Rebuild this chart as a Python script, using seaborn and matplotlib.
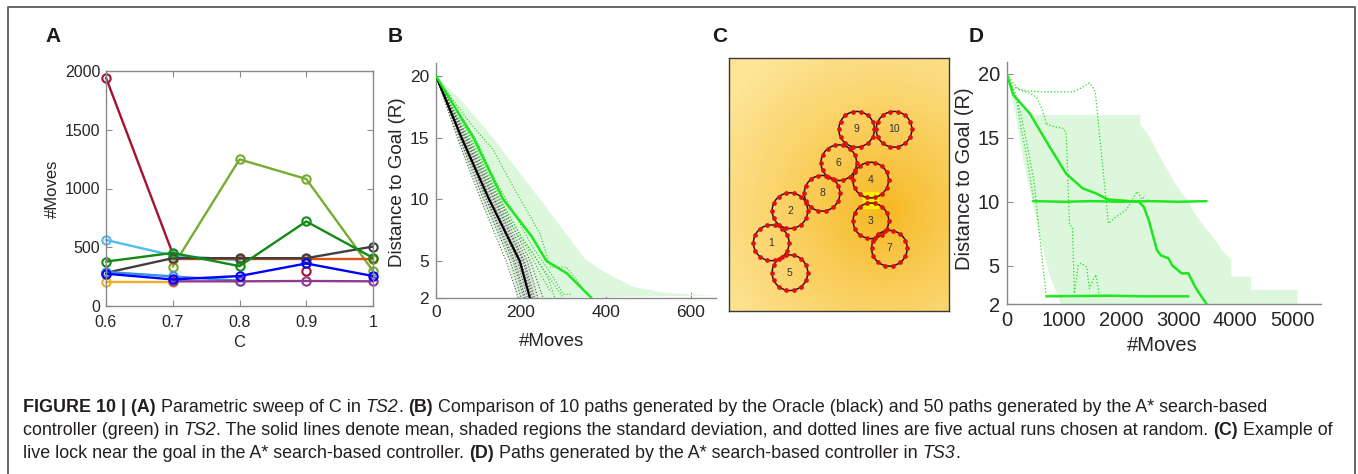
import numpy as np
import matplotlib
matplotlib.use("Agg")
import matplotlib.pyplot as plt
import seaborn as sns
import pandas as pd
from matplotlib.patches import Circle, Rectangle
from matplotlib.lines import Line2D
from matplotlib.transforms import IdentityTransform

# ---------------- DATA ----------------
# Panel A: parametric sweep of C
c_values = [0.6, 0.7, 0.8, 0.9, 1.0]
moves_crimson = [1943, 445, np.nan, 300, np.nan]
moves_lightgreen = [np.nan, 335, 1248, 1081, 298]
moves_cyan = [562, 430, 390, np.nan, np.nan]
moves_orange = [np.nan, 400, 400, 400, 400]
moves_gray = [282, 407, 407, 407, 506]
moves_darkgreen = [378, 452, 339, 720, 410]
moves_steelblue = [290, 252, 215, np.nan, np.nan]
moves_yellow = [205, 205, np.nan, np.nan, np.nan]
moves_purple = [np.nan, 210, 210, 213, 210]
moves_blue = [275, 226, 255, 362, 255]

# Panel B: oracle (black) and A* (green) paths
b_black_mean_x = [0, 60, 125, 197, 221]
b_black_mean_y = [20, 15, 10, 5, 2]
b_green_mean_x = [0, 88, 158, 225, 260, 308, 366]
b_green_mean_y = [20, 15, 10, 7, 5, 4, 2]
b_green_sd_right_x = [0, 60, 134, 200, 245, 300, 350, 386, 430, 464, 543, 621, 659]
b_green_sd_right_y = [20, 18, 15, 12, 10, 7.5, 5.2, 4.3, 3.5, 2.9, 2.4, 2.25, 2.2]
b_green_sd_left_x = [0, 50, 105, 170, 190]
b_green_sd_left_y = [20, 15, 10, 5, 2]
b_gray_sd_left_x = [0, 52, 110, 178, 200]
b_gray_sd_right_x = [0, 68, 140, 215, 240]
b_gray_sd_y = [20, 15, 10, 5, 2]
b_oracle_levels = [20, 15, 10, 5, 2]
b_oracle_runs_x = [
    [0, 50, 105, 165, 194],
    [0, 55, 112, 175, 200],
    [0, 58, 118, 182, 207],
    [0, 62, 125, 192, 215],
    [0, 65, 130, 200, 225],
    [0, 70, 138, 208, 232],
    [0, 72, 142, 215, 240],
    [0, 75, 148, 222, 252],
    [0, 60, 120, 186, 210],
    [0, 68, 135, 205, 228],
]
b_astar_runs = [
    ([0, 41, 80, 135, 182, 245, 262, 270, 307, 330, 355],
     [20, 18, 16.2, 14, 11, 7.2, 5.3, 4.5, 4.5, 3.5, 2.3]),
    ([0, 50, 100, 150, 200, 240, 265, 280],
     [20, 17, 13.5, 10, 7, 5, 3.5, 2]),
    ([0, 45, 95, 140, 190, 230, 270, 300, 320],
     [20, 17.5, 14.8, 11.5, 8.5, 6, 4, 2.3, 2.3]),
    ([0, 60, 110, 160, 200, 250, 280, 300],
     [20, 16.5, 13, 9.5, 7, 4.5, 3, 2]),
    ([0, 30, 90, 130, 175, 215, 245, 270],
     [20, 18, 14, 11, 8, 6, 4, 2.5]),
]

# Panel C: robot discs and goal (layout units)
disc_labels = ["1", "2", "3", "4", "5", "6", "7", "8", "9", "10"]
disc_x = [1.92, 2.77, 6.45, 6.44, 2.77, 4.99, 7.29, 4.23, 5.80, 7.50]
disc_y = [8.40, 6.94, 7.40, 5.55, 9.76, 4.76, 8.65, 6.15, 3.24, 3.24]
disc_radius = 0.81
goal_xy = (6.41, 6.45)
goal_size = (0.68, 0.75)

# Panel D: A* paths in TS3
d_mean_x = [0, 116, 405, 751, 1040, 1329, 1561, 1763, 2000, 2312, 2400, 2485,
            2630, 2700, 2832, 2900, 3063, 3179, 3295, 3410, 3497]
d_mean_y = [20, 18.36, 16.9, 14.3, 12.2, 11.05, 10.66, 10.19, 10.1, 10.0, 9.6,
            8.57, 6.2, 5.8, 5.57, 5.0, 4.4, 4.4, 3.36, 2.57, 2.0]
d_sd_x = [0, 150, 300, 450, 600, 750, 950,
          5087, 5087, 4277, 4277, 3930, 3930, 3800, 3650, 3470, 3300, 3179,
          2950, 2800, 2600, 2485, 2341, 2341, 462, 200]
d_sd_y = [20, 17, 13, 10, 7, 4.2, 2,
          2, 3.1, 3.1, 4.14, 4.14, 5.5, 6.0, 7.0, 8.0, 9.0, 10.0,
          11.4, 12.6, 14.2, 15.2, 16.0, 16.8, 16.8, 17.5]
d_runs = [
    ([0, 100, 300, 600, 1156, 1300, 1445, 1503, 1550, 1780, 1907, 2100, 2283, 2370, 2430],
     [20, 19, 18.7, 18.6, 18.6, 18.9, 19.3, 19.0, 18.6, 8.3, 8.8, 9.4, 10.8, 10.2, 10.5]),
    ([0, 173, 260, 347, 434, 474],
     [20, 17.96, 15.5, 13.66, 11.2, 10.1]),
    ([0, 200, 400, 520, 607, 650, 694],
     [20, 18.8, 18.5, 18.2, 17.4, 16.8, 16.1]),
    ([0, 150, 250, 400, 480, 560, 694],
     [20, 18.5, 16.8, 13.5, 11.5, 8.0, 2.6]),
    ([694, 809, 983, 1040, 1100, 1150, 1185, 1250, 1300, 1400, 1445, 1560, 1620],
     [16.1, 15.9, 15.75, 15.4, 8.2, 8.0, 2.83, 5.0, 5.2, 4.9, 3.2, 4.3, 2.8]),
]
d_lock10_x = [462, 1000, 1500, 2000, 2500, 3000, 3497]
d_lock10_y = [10.05, 10.0, 10.05, 10.0, 10.05, 10.0, 10.05]
d_lock2_x = [694, 1200, 1800, 2400, 3179]
d_lock2_y = [2.6, 2.62, 2.65, 2.6, 2.6]

# ---------------- STYLE ----------------
sns.set_theme(style="white")
plt.rcParams["font.family"] = ["Liberation Sans", "DejaVu Sans"]
TXT = "#262626"
SPINE = "#8a8a8a"

fig = plt.figure(figsize=(13.58, 4.74), dpi=100)
W, H = 1358, 474


def ax_px(left, top, right, bottom):
    return fig.add_axes([left / W, 1 - bottom / H, (right - left) / W, (bottom - top) / H])


def style_axes(ax, box, tsize, xpad=4, ypad=4):
    for s in ["left", "bottom", "top", "right"]:
        ax.spines[s].set_color(SPINE)
        ax.spines[s].set_linewidth(1.0)
        ax.spines[s].set_visible(box or s in ("left", "bottom"))
    ax.tick_params(direction="in", length=4, width=0.8, color=SPINE,
                   labelsize=tsize, labelcolor=TXT,
                   top=box, right=box, bottom=True, left=True)
    ax.tick_params(axis="x", pad=xpad)
    ax.tick_params(axis="y", pad=ypad)


# ---------------- PANEL A ----------------
axA = ax_px(106, 71, 373, 306)
series_A = [
    (moves_crimson, "#A2142F"),
    (moves_lightgreen, "#77AC30"),
    (moves_cyan, "#4DBEEE"),
    (moves_orange, "#D95319"),
    (moves_gray, "#404040"),
    (moves_darkgreen, "#138A13"),
    (moves_steelblue, "#3A8FE0"),
    (moves_yellow, "#EDB120"),
    (moves_purple, "#8E3A8E"),
    (moves_blue, "#0000FF"),
]
for vals, col in series_A:
    v = np.array(vals, dtype=float)
    seg = np.cumsum(np.isnan(v))
    df = pd.DataFrame({"C": c_values, "Moves": v, "seg": seg}).dropna()
    for _, g in df.groupby("seg"):
        sns.lineplot(data=g, x="C", y="Moves", ax=axA, color=col, lw=1.7,
                     marker="o", ms=6, mfc="none", mec=col, mew=1.5,
                     estimator=None, sort=False, legend=False)
axA.set_xlim(0.6, 1.0)
axA.set_ylim(0, 2000)
axA.set_xticks(c_values)
axA.set_xticklabels(["0.6", "0.7", "0.8", "0.9", "1"])
axA.set_yticks([0, 500, 1000, 1500, 2000])
style_axes(axA, True, 11.5, xpad=6.5, ypad=4)
axA.set_xlabel("C", fontsize=12, color=TXT, va="center")
axA.set_ylabel("#Moves", fontsize=12, color=TXT, va="center")
axA.xaxis.set_label_coords(0.5, -0.157)
axA.yaxis.set_label_coords(-0.199, 0.498)
for ln in axA.lines:
    ln.set_clip_on(False)

# ---------------- PANEL B ----------------
axB = ax_px(436, 63, 716, 298)
axB.fill(b_green_sd_left_x + b_green_sd_right_x[::-1],
         b_green_sd_left_y + b_green_sd_right_y[::-1],
         color="#dcf7dc", lw=0, zorder=1)
axB.fill(b_gray_sd_left_x + b_gray_sd_right_x[::-1],
         b_gray_sd_y + b_gray_sd_y[::-1],
         color="#c8c8c8", alpha=0.35, lw=0, zorder=1.5)
for rx in b_oracle_runs_x:
    sns.lineplot(x=rx, y=b_oracle_levels, ax=axB, color="#555555", lw=0.8,
                 linestyle=":", estimator=None, sort=False, zorder=2)
for rx, ry in b_astar_runs:
    sns.lineplot(x=rx, y=ry, ax=axB, color="#35c435", lw=0.8,
                 linestyle=":", estimator=None, sort=False, zorder=2)
sns.lineplot(x=b_black_mean_x, y=b_black_mean_y, ax=axB, color="black", lw=1.6,
             estimator=None, sort=False, zorder=3)
sns.lineplot(x=b_green_mean_x, y=b_green_mean_y, ax=axB, color="#1ee61e", lw=1.8,
             estimator=None, sort=False, zorder=3)
axB.set_xlim(0, 659)
axB.set_ylim(2, 21.05)
axB.set_xticks([0, 200, 400, 600])
axB.set_yticks([2, 5, 10, 15, 20])
style_axes(axB, False, 12.5, xpad=5, ypad=5)
axB.set_xlabel("#Moves", fontsize=13.5, color=TXT, va="center")
axB.set_ylabel("Distance to Goal (R)", fontsize=13.5, color=TXT, va="center")
axB.xaxis.set_label_coords(0.414, -0.183)
axB.yaxis.set_label_coords(-0.139, 0.494)

# ---------------- PANEL C ----------------
axC = ax_px(729, 58, 949, 311)
cw, ch = 10.0, 11.5
gx, gy = np.meshgrid(np.linspace(0, cw, 220), np.linspace(0, ch, 253))
dist = np.sqrt((gx - 7.0) ** 2 + (gy - 6.9) ** 2)
t = np.clip(dist / 8.5, 0, 1) ** 0.8
dark = np.array([245, 182, 28]) / 255.0
light = np.array([253, 228, 150]) / 255.0
img = dark[None, None, :] * (1 - t[..., None]) + light[None, None, :] * t[..., None]
axC.imshow(img, extent=[0, cw, ch, 0], aspect="auto", interpolation="bilinear")
axC.add_patch(Rectangle((goal_xy[0] - goal_size[0] / 2, goal_xy[1] - goal_size[1] / 2),
                        goal_size[0], goal_size[1], color="#f8f000", zorder=2))
ang = np.deg2rad(np.arange(0, 360, 360 / 14))
for lab, cx, cy in zip(disc_labels, disc_x, disc_y):
    axC.add_patch(Circle((cx, cy), disc_radius, fill=False, ec="#1a1a1a", lw=1.1, zorder=3))
    axC.plot(cx + disc_radius * np.cos(ang), cy + disc_radius * np.sin(ang), "o",
             color="#e01010", ms=3.4, mew=0, zorder=4)
    axC.text(cx, cy, lab, ha="center", va="center", fontsize=7.5, color="#333333", zorder=5)
axC.set_xlim(0, cw)
axC.set_ylim(ch, 0)
axC.set_xticks([])
axC.set_yticks([])
for s in axC.spines.values():
    s.set_visible(True)
    s.set_color("#3a3a3a")
    s.set_linewidth(1.0)

# ---------------- PANEL D ----------------
axD = ax_px(1006.7, 61.7, 1321, 304)
axD.fill(d_sd_x, d_sd_y, color="#dcf7dc", lw=0, zorder=1)
for rx, ry in d_runs:
    sns.lineplot(x=rx, y=ry, ax=axD, color="#22dd22", lw=0.9, linestyle=":",
                 estimator=None, sort=False, zorder=2)
sns.lineplot(x=d_lock10_x, y=d_lock10_y, ax=axD, color="#22e622", lw=1.8,
             estimator=None, sort=False, zorder=2)
sns.lineplot(x=d_lock2_x, y=d_lock2_y, ax=axD, color="#22e622", lw=1.8,
             estimator=None, sort=False, zorder=2)
sns.lineplot(x=d_mean_x, y=d_mean_y, ax=axD, color="#1ee61e", lw=1.8,
             estimator=None, sort=False, zorder=3)
axD.set_xlim(0, 5500)
axD.set_ylim(2, 20.96)
axD.set_xticks([0, 1000, 2000, 3000, 4000, 5000])
axD.set_yticks([2, 5, 10, 15, 20])
style_axes(axD, False, 14.5, xpad=5, ypad=5)
axD.set_xlabel("#Moves", fontsize=14.5, color=TXT, va="center")
axD.set_ylabel("Distance to Goal (R)", fontsize=14.5, color=TXT, va="center")
axD.xaxis.set_label_coords(0.494, -0.173)
axD.yaxis.set_label_coords(-0.133, 0.516)

# ---------------- PANEL LETTERS ----------------
for lab, px in [("A", 53), ("B", 395), ("C", 720), ("D", 976)]:
    fig.text(px / W, 1 - 36 / H, lab, fontsize=15, fontweight="bold",
             color="#1a1a1a", ha="center", va="center")

# ---------------- FRAME ----------------
fl, fr, ft = 7.5 / W, 1355 / W, 1 - 6.5 / H
frame = Line2D([fl, fl, fr, fr], [-0.05, ft, ft, -0.05], transform=fig.transFigure,
               color="#5a5a5a", lw=1.3)
fig.add_artist(frame)

# ---------------- CAPTION ----------------
fig.canvas.draw()
renderer = fig.canvas.get_renderer()
CAP = "#231f20"
CAP_SIZE = 12.9


def measure(s, weight="normal", style="normal"):
    tt = fig.text(0, 0, s, fontsize=CAP_SIZE, fontweight=weight, fontstyle=style,
                  transform=IdentityTransform())
    w = tt.get_window_extent(renderer).width
    tt.remove()
    return w


SPACE = measure("x x") - measure("xx")


def rich_line(x, y_base, segs):
    y = H - y_base
    for s, weight, style in segs:
        lead = len(s) - len(s.lstrip(" "))
        trail = len(s) - len(s.rstrip(" "))
        core = s.strip(" ")
        x += lead * SPACE
        tt = fig.text(x, y, core, fontsize=CAP_SIZE, fontweight=weight, fontstyle=style,
                      color=CAP, transform=IdentityTransform(), va="baseline", ha="left")
        x += tt.get_window_extent(renderer).width + trail * SPACE


N, B_, I_ = ("normal", "normal"), ("bold", "normal"), ("normal", "italic")
rich_line(23, 412, [("FIGURE 10 | (A)", *B_), (" Parametric sweep of C in ", *N), ("TS2", *I_),
                    (". ", *N), ("(B)", *B_),
                    (" Comparison of 10 paths generated by the Oracle (black) and 50 paths generated by the A* search-based", *N)])
rich_line(23, 435, [("controller (green) in ", *N), ("TS2", *I_),
                    (". The solid lines denote mean, shaded regions the standard deviation, and dotted lines are five actual runs chosen at random. ", *N),
                    ("(C)", *B_), (" Example of", *N)])
rich_line(23, 458, [("live lock near the goal in the A* search-based controller. ", *N), ("(D)", *B_),
                    (" Paths generated by the A* search-based controller in ", *N), ("TS3", *I_), (".", *N)])

fig.savefig("out.png", dpi=100)
